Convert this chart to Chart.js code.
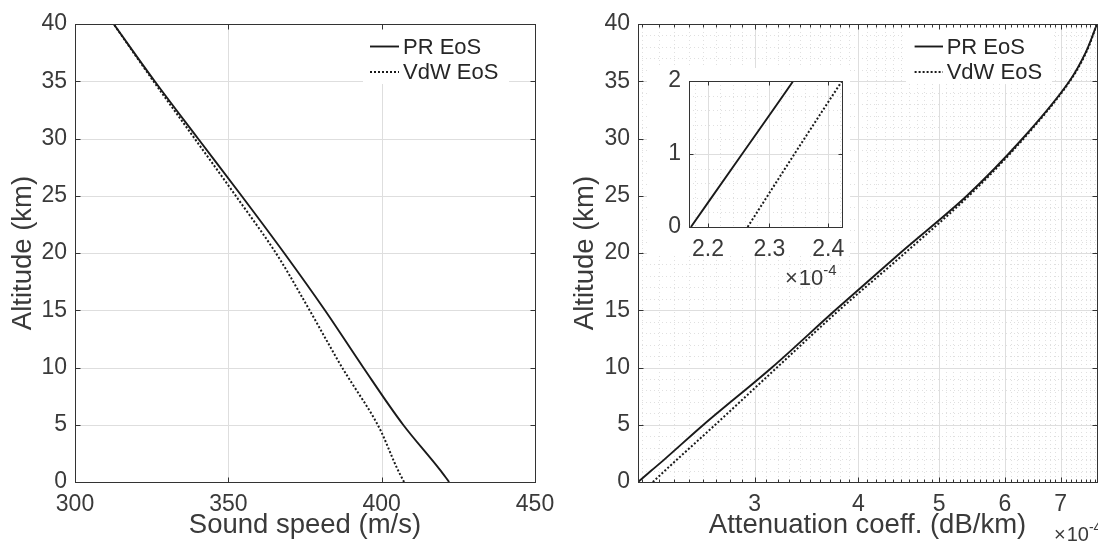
<!DOCTYPE html>
<html>
<head>
<meta charset="utf-8">
<script src="https://cdn.jsdelivr.net/npm/chart.js@4/dist/chart.umd.min.js"></script>
<style>
  body { margin: 0; background: #fff; width: 1098px; height: 543px; overflow: hidden; position: relative; }
  canvas { position: absolute; }
  #left { left: 0; top: 0; }
  #right { left: 565px; top: 0; }
  #inset { left: 645px; top: 68px; }
</style>
</head>
<body>
<canvas id="left" width="565" height="543" style="width:565px;height:543px"></canvas>
<canvas id="right" width="533" height="543" style="width:533px;height:543px"></canvas>
<canvas id="inset" width="205" height="220" style="width:205px;height:220px"></canvas>
<script>
// data
const seriesNames = ["PR EoS", "VdW EoS"];

// left panel : sound speed (m/s) vs altitude (km)
const speedAltKm = [0, 1.1, 5, 10, 15, 20, 25, 30, 35, 40];
const soundSpeedPR = [422.0, 418.9, 407.0, 394.0, 381.5, 368.2, 354.3, 340.1, 326.0, 312.6];
const soundSpeedVdW = [407.3, 405.2, 398.7, 387.1, 376.5, 365.5, 352.4, 339.0, 325.6, 312.6];

// right panel : attenuation coeff. in units of 1e-4 dB/km
const attenAltKm = [0, 1, 2, 5, 10, 15, 20, 25, 30, 35, 37.5, 40];
const attenPR = [2.173, 2.255, 2.34, 2.605, 3.148, 3.75, 4.49, 5.40, 6.30, 7.17, 7.50, 7.74];
const attenVdW = [2.264, 2.342, 2.424, 2.691, 3.192, 3.79, 4.55, 5.43, 6.32, 7.18, 7.51, 7.74];

// ticks
const speedTicks = [300, 350, 400, 450];
const altitudeTicks = [0, 5, 10, 15, 20, 25, 30, 35, 40];
const attenTicks = [3, 4, 5, 6, 7];
const insetAltTicks = [0, 1, 2];
const insetAttenTicks = [2.2, 2.3, 2.4];

const FONT = "'Liberation Sans', Arial, Helvetica, sans-serif";
const textColor = "#3a3a3a";
const frameColor = "#333";
const tickFont = { family: FONT, size: 23 };
const titleFont = { family: FONT, size: 27.5, lineHeight: 1.2 };

// minor grid positions (same units as the axes)
function steps(from, to, step, skip) {
  const out = [];
  for (let k = Math.round(from / step); k * step <= to + 1e-9; k++) {
    const v = +(k * step).toFixed(4);
    if (!skip.includes(v)) out.push(v);
  }
  return out;
}
const attenMinor = steps(2.2, 7.7, 0.1, attenTicks);
const altMinor = steps(1, 39, 1, altitudeTicks);
const insetAttenMinor = steps(2.18, 2.42, 0.02, insetAttenTicks);
const insetAltMinor = steps(0.2, 1.8, 0.2, insetAltTicks);

function lineSet(label, xs, hs, dotted) {
  return {
    label: label,
    data: hs.map((h, i) => ({ x: xs[i], y: h })),
    borderColor: "#1a1a1a",
    borderWidth: dotted ? 2 : 1.9,
    borderDash: dotted ? [2, 2] : [],
    pointRadius: 0,
    cubicInterpolationMode: "monotone",
    fill: false
  };
}

function px(v) { return Math.round(v) + 0.5; }

// matlab-like box, grid, inward ticks, legend and exponent
function decor(cfg) {
  return {
    id: "decor",
    beforeDraw(chart) {
      if (!cfg.bg) return;
      const ctx = chart.ctx;
      ctx.save();
      ctx.fillStyle = "#fff";
      ctx.fillRect(cfg.bg[0], cfg.bg[1], cfg.bg[2], cfg.bg[3]);
      ctx.restore();
    },
    beforeDatasetsDraw(chart) {
      const { ctx, chartArea: a, scales } = chart;
      const x = scales.x, y = scales.y;
      ctx.save();
      ctx.lineWidth = 1;
      // minor dotted grid
      ctx.strokeStyle = "#e0e0e0";
      ctx.setLineDash([1, 3]);
      (cfg.xMinor || []).forEach(v => {
        const p = px(x.getPixelForValue(v));
        ctx.beginPath(); ctx.moveTo(p, a.top); ctx.lineTo(p, a.bottom); ctx.stroke();
      });
      (cfg.yMinor || []).forEach(v => {
        const p = px(y.getPixelForValue(v));
        ctx.beginPath(); ctx.moveTo(a.left, p); ctx.lineTo(a.right, p); ctx.stroke();
      });
      // major grid
      ctx.setLineDash([]);
      ctx.strokeStyle = "#dedede";
      x.ticks.forEach(t => {
        const p = px(x.getPixelForValue(t.value));
        ctx.beginPath(); ctx.moveTo(p, a.top); ctx.lineTo(p, a.bottom); ctx.stroke();
      });
      y.ticks.forEach(t => {
        const p = px(y.getPixelForValue(t.value));
        ctx.beginPath(); ctx.moveTo(a.left, p); ctx.lineTo(a.right, p); ctx.stroke();
      });
      ctx.restore();
    },
    afterDatasetsDraw(chart) {
      const { ctx, chartArea: a, scales } = chart;
      const x = scales.x, y = scales.y;
      ctx.save();
      // legend
      if (cfg.legend) {
        const L = cfg.legend;
        ctx.fillStyle = "#fff";
        ctx.fillRect(L.box[0], L.box[1], L.box[2], L.box[3]);
        ctx.font = "22px " + FONT;
        ctx.textBaseline = "middle";
        ctx.textAlign = "left";
        chart.data.datasets.forEach((ds, i) => {
          const yy = L.rows[i];
          ctx.strokeStyle = ds.borderColor;
          ctx.lineWidth = ds.borderWidth;
          ctx.setLineDash(ds.borderDash);
          ctx.beginPath(); ctx.moveTo(L.x0, yy); ctx.lineTo(L.x1, yy); ctx.stroke();
          ctx.fillStyle = "#262626";
          ctx.fillText(ds.label, L.tx, yy + 1);
        });
        ctx.setLineDash([]);
      }
      // ticks
      ctx.strokeStyle = frameColor;
      ctx.lineWidth = 1;
      const T = cfg.tick || 5;
      const l = px(a.left), r = px(a.right), t = px(a.top), b = px(a.bottom);
      const vt = (p, len) => {
        ctx.beginPath(); ctx.moveTo(p, b); ctx.lineTo(p, b - len); ctx.stroke();
        ctx.beginPath(); ctx.moveTo(p, t); ctx.lineTo(p, t + len); ctx.stroke();
      };
      const ht = (p, len) => {
        ctx.beginPath(); ctx.moveTo(l, p); ctx.lineTo(l + len, p); ctx.stroke();
        ctx.beginPath(); ctx.moveTo(r, p); ctx.lineTo(r - len, p); ctx.stroke();
      };
      x.ticks.forEach(tk => vt(px(x.getPixelForValue(tk.value)), T));
      y.ticks.forEach(tk => ht(px(y.getPixelForValue(tk.value)), T));
      (cfg.xMinorTicks || []).forEach(v => vt(px(x.getPixelForValue(v)), 3));
      // box
      ctx.strokeRect(l, t, r - l, b - t);
      // x10^-4 exponent
      if (cfg.exp) {
        const E = cfg.exp;
        ctx.fillStyle = textColor;
        ctx.textAlign = "left";
        ctx.textBaseline = "alphabetic";
        ctx.font = E.size + "px " + FONT;
        ctx.fillText("\u00d7", E.x, E.y);
        const w1 = ctx.measureText("\u00d7").width + 1;
        ctx.fillText("10", E.x + w1, E.y);
        const w2 = ctx.measureText("10").width;
        ctx.font = Math.round(E.size * 0.7) + "px " + FONT;
        ctx.fillText("-4", E.x + w1 + w2, E.y - E.size * 0.45);
      }
      ctx.restore();
    }
  };
}

function fixedTicks(list) {
  return s => { s.ticks = list.map(v => ({ value: v })); };
}

function xAxis(type, min, max, ticks, title, h) {
  return {
    type: type, min: min, max: max,
    afterBuildTicks: fixedTicks(ticks),
    afterFit: s => { s.height = h; s.paddingLeft = 0; s.paddingRight = 0; },
    grid: { display: false, drawTicks: false },
    border: { display: false },
    ticks: { font: tickFont, color: textColor, padding: 9, maxRotation: 0, autoSkip: false, callback: v => String(v) },
    title: { display: !!title, text: title, font: titleFont, color: textColor, padding: { top: 0, bottom: 1.5 } }
  };
}

function yAxis(min, max, ticks, title, w, titlePad) {
  return {
    type: "linear", min: min, max: max,
    afterBuildTicks: fixedTicks(ticks),
    afterFit: s => { s.width = w; s.paddingTop = 0; s.paddingBottom = 0; },
    grid: { display: false, drawTicks: false },
    border: { display: false },
    ticks: { font: tickFont, color: textColor, padding: 8, autoSkip: false, callback: v => String(v) },
    title: { display: !!title, text: title, font: titleFont, color: textColor, padding: { top: titlePad, bottom: 0 } }
  };
}

function baseOptions(padding, scales) {
  return {
    responsive: false,
    animation: false,
    events: [],
    indexAxis: "y", // altitude is the running variable
    layout: { padding: padding },
    plugins: { legend: { display: false }, tooltip: { enabled: false } },
    scales: scales
  };
}

// left panel
new Chart(document.getElementById("left"), {
  type: "line",
  data: {
    datasets: [
      lineSet(seriesNames[0], soundSpeedPR, speedAltKm, false),
      lineSet(seriesNames[1], soundSpeedVdW, speedAltKm, true)
    ]
  },
  options: baseOptions({ left: 0, top: 24, right: 30, bottom: 0 }, {
    x: xAxis("linear", 300, 450, speedTicks, "Sound speed (m/s)", 61),
    y: yAxis(0, 40, altitudeTicks, "Altitude (km)", 75, 6.6)
  }),
  plugins: [decor({
    legend: { box: [363, 26, 146, 58], x0: 370, x1: 399, tx: 403, rows: [46.5, 72] }
  })]
});

// right panel
new Chart(document.getElementById("right"), {
  type: "line",
  data: {
    datasets: [
      lineSet(seriesNames[0], attenPR, attenAltKm, false),
      lineSet(seriesNames[1], attenVdW, attenAltKm, true)
    ]
  },
  options: baseOptions({ left: 0, top: 24, right: 1, bottom: 0 }, {
    x: xAxis("logarithmic", attenPR[0], attenPR[attenPR.length - 1], attenTicks, "Attenuation coeff. (dB/km)", 61),
    y: yAxis(0, 40, altitudeTicks, "Altitude (km)", 73, 3.8)
  }),
  plugins: [decor({
    xMinor: attenMinor, yMinor: altMinor, xMinorTicks: attenMinor,
    legend: { box: [341, 26, 146, 58], x0: 349.6, x1: 378, tx: 381.7, rows: [46.5, 72] },
    exp: { x: 489, y: 541, size: 20 }
  })]
});

// inset : zoom on 0-2 km
new Chart(document.getElementById("inset"), {
  type: "line",
  data: {
    datasets: [
      lineSet(seriesNames[0], attenPR, attenAltKm, false),
      lineSet(seriesNames[1], attenVdW, attenAltKm, true)
    ]
  },
  options: baseOptions({ left: 0, top: 13, right: 8, bottom: 0 }, {
    x: xAxis("logarithmic", attenPR[0], attenVdW[2], insetAttenTicks, "", 61),
    y: yAxis(0, 2, insetAltTicks, "", 44, 0)
  }),
  plugins: [decor({
    bg: [2, 0, 203, 187],
    xMinor: insetAttenMinor, yMinor: insetAltMinor, tick: 4,
    exp: { x: 140, y: 217, size: 22 }
  })]
});
</script>
</body>
</html>
